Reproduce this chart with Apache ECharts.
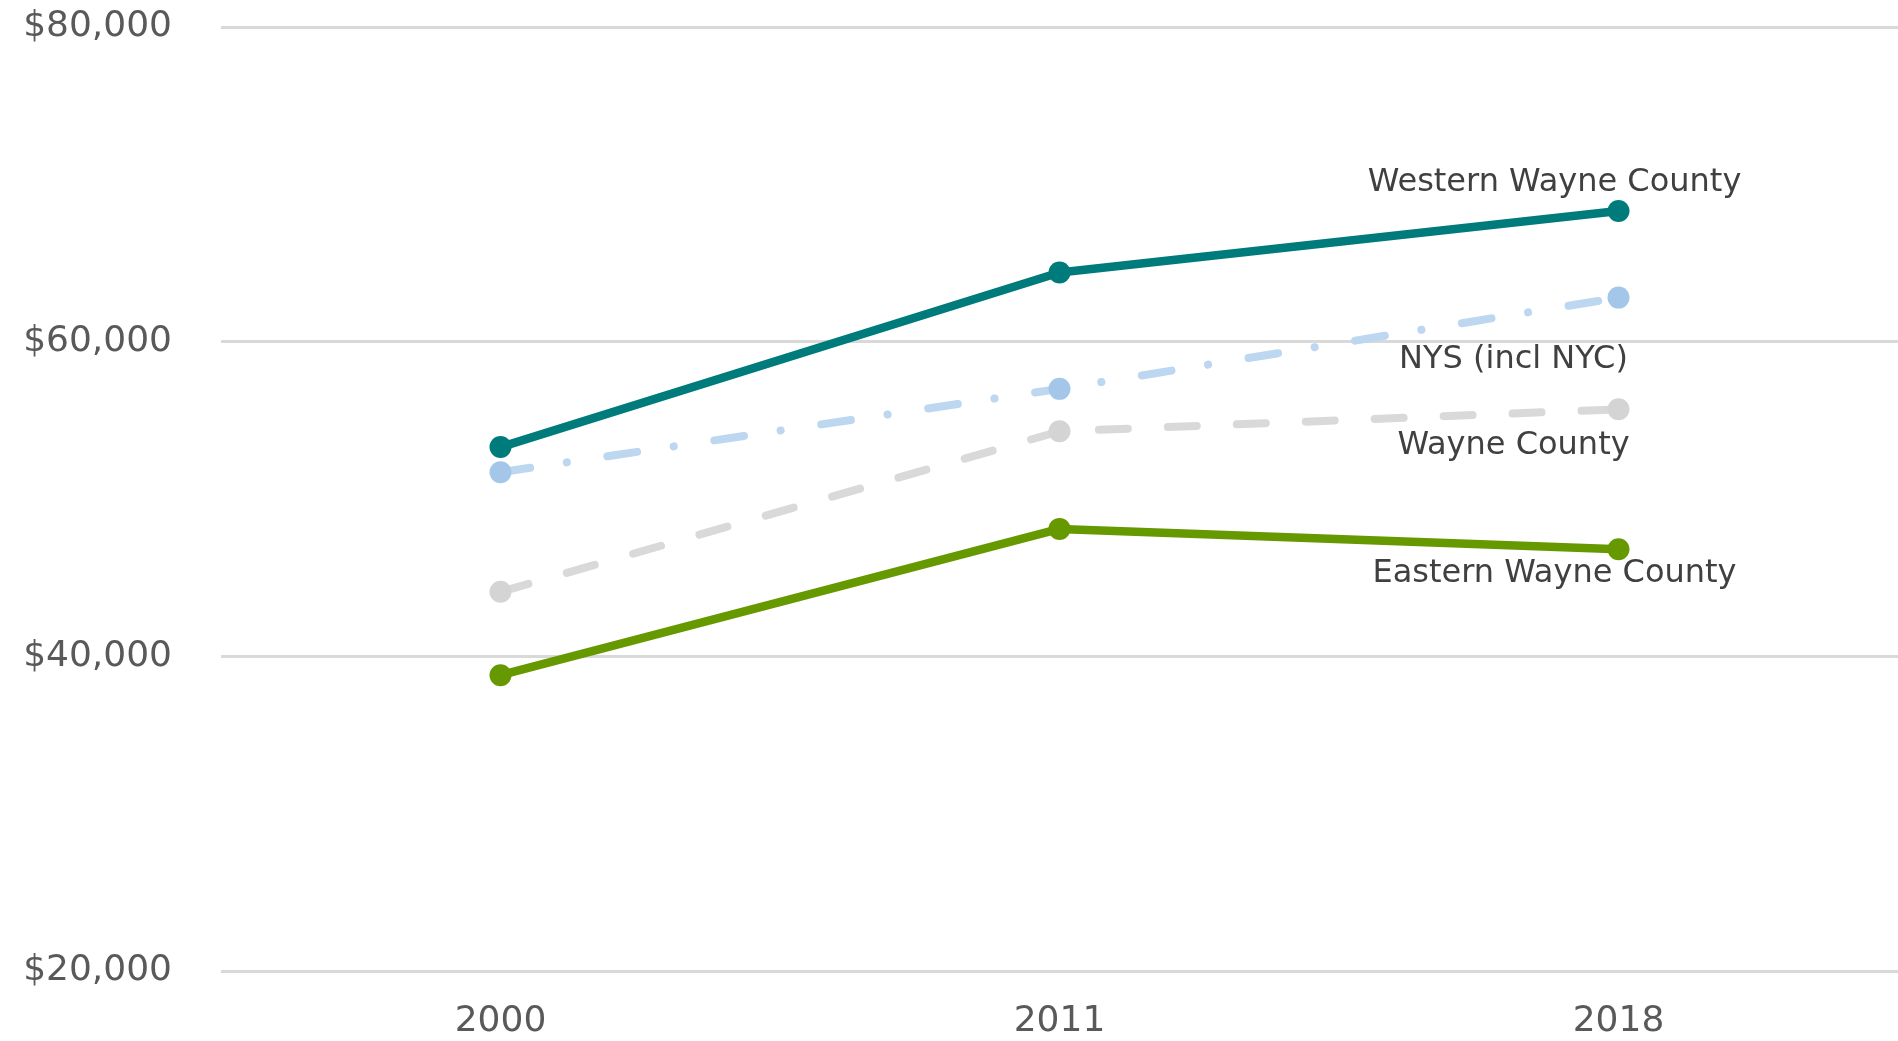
<!DOCTYPE html>
<html>
<head>
<meta charset="utf-8">
<script src="https://cdn.jsdelivr.net/npm/echarts@6/dist/echarts.min.js"></script>
<style>
  html, body { margin: 0; padding: 0; background: #fff; }
  #chart { width: 1898px; height: 1041px; }
</style>
</head>
<body>
<div id="chart"></div>
<script>
var years = ['2000', '2011', '2018'];
var westernWayne = [53300, 64400, 68300];
var nys = [51700, 57000, 62800];
var wayneCounty = [44100, 54300, 55700];
var easternWayne = [38800, 48100, 46800];
var yTicks = [20000, 40000, 60000, 80000];

var FONT = 'DejaVu Sans';

// put a name label on the last point only
function withEndLabel(values, name, offset) {
	return values.map(function (v, i) {
		if (i !== values.length - 1) return v;
		return {
			value: v,
			label: {
				show: true,
				formatter: name,
				position: 'inside',
				offset: offset,
				color: '#404040',
				fontFamily: FONT,
				fontSize: 32
			}
		};
	});
}

function makeSeries(name, values, color, symColor, lineType, width, offset, z) {
	return {
		name: name,
		type: 'line',
		data: withEndLabel(values, name, offset),
		symbol: 'circle',
		symbolSize: 22,
		z: z,
		lineStyle: { color: color, width: width, type: lineType, cap: 'round' },
		itemStyle: { color: symColor },
		emphasis: { disabled: true },
		animation: false
	};
}

var myChart = echarts.init(document.getElementById('chart'));
var option = {
	grid: { left: 221, right: 0, top: 27, bottom: 70 },
	xAxis: {
		type: 'category',
		data: years,
		boundaryGap: true,
		axisLine: { show: false },
		axisTick: { show: false },
		axisLabel: { color: '#595959', fontFamily: FONT, fontSize: 36, margin: 33 }
	},
	yAxis: {
		type: 'value',
		min: yTicks[0],
		max: yTicks[yTicks.length - 1],
		interval: 20000,
		axisLine: { show: false },
		axisTick: { show: false },
		splitLine: { lineStyle: { color: '#d9d9d9', width: 3 } },
		axisLabel: {
			color: '#595959', fontFamily: FONT, fontSize: 36, margin: 49,
			formatter: function (v) { return '$' + v.toLocaleString('en-US'); }
		}
	},
	series: [
		makeSeries('Wayne County', wayneCounty, '#d9d9d9', '#d4d4d4', [29, 40], 8, [-105, 36], 1),
		makeSeries('NYS (incl NYC)', nys, '#bcd7ef', '#a4c7e9', [30, 37, 0.1, 41], 8, [-105, 62], 2),
		makeSeries('Eastern Wayne County', easternWayne, '#669900', '#669900', 'solid', 8.5, [-64, 24], 3),
		makeSeries('Western Wayne County', westernWayne, '#007b7b', '#007b7b', 'solid', 8.5, [-64, -28], 4)
	]
};
myChart.setOption(option);
</script>
</body>
</html>
